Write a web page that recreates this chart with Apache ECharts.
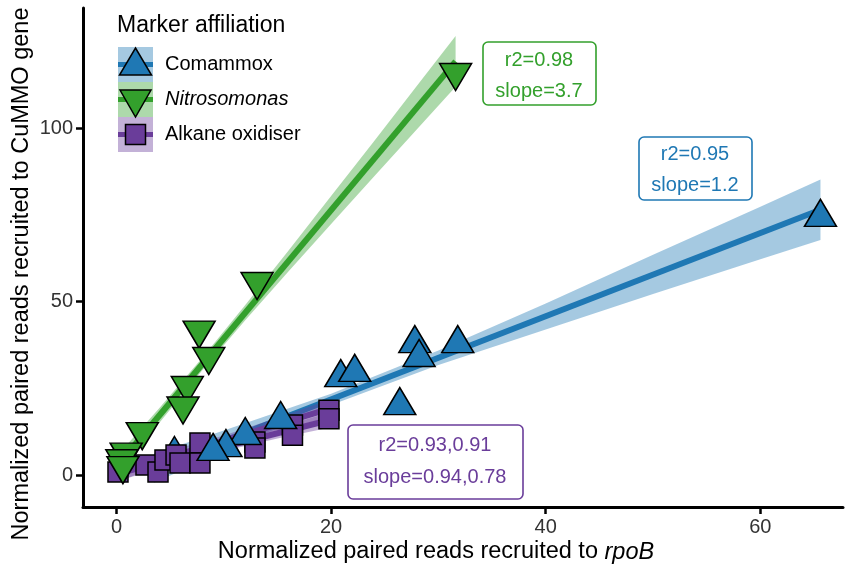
<!DOCTYPE html>
<html><head><meta charset="utf-8">
<script src="https://cdn.jsdelivr.net/npm/echarts@6/dist/echarts.min.js"></script>
<style>html,body{margin:0;padding:0;background:#fff}#c{width:846px;height:570px}</style>
</head><body><div id="c"></div>
<script>
// ---- data ----
const xTicks = [0, 20, 40, 60];
const yTicks = [0, 50, 100];

const comammox = [[65.6,75.6],[31.8,39.2],[27.8,39.2],[28.2,35.2],[20.9,29.4],[22.2,30.9],
  [26.4,21.3],[15.3,17.3],[12.0,12.7],[10.2,9.2],[9.0,8.1],[5.4,7.2]];
const nitrosomonas = [[31.6,114.8],[13.1,54.5],[7.7,40.5],[8.6,32.9],[6.6,24.5],[6.2,18.6],
  [2.4,11.2],[0.9,5.3],[0.5,3.4],[0.6,1.4]];
const alkane = [[0.14,0.87],[2.75,2.88],[3.87,0.87],[4.52,4.33],[5.55,5.77],[5.92,3.46],
  [7.78,9.23],[7.78,3.46],[12.9,9.52],[12.9,7.79],[16.4,14.4],[16.4,11.5],[19.8,18.7],[19.8,16.2]];

// fitted lines (end points) and confidence ribbons [x, lower, upper]
const comammoxFit = [[3.5,2.0],[65.6,76.5]];
const nitroFit = [[0.5,4.25],[31.6,119.3]];
const alkaneFitA = [[0.1,0.6],[19.8,19.1]];
const alkaneFitB = [[0.1,0.4],[19.8,15.8]];
const comammoxBand = [[3.5,-2.2,6.2],[10,6.8,12.8],[20,20.2,23.4],[30,31.7,35.9],[40,42.0,49.5],
  [50,52.2,63.5],[60,62.2,77.4],[65.6,67.8,85.2]];
const nitroBand = [[0.5,1.4,7.1],[4,15.1,19.3],[8,30.2,33.8],[12,44.6,49.0],[16,58.6,64.6],
  [20,72.4,80.5],[24,86.1,96.3],[28,99.7,112.3],[31.6,112.0,126.6]];
const alkaneBandA = [[0.1,-1.9,3.3],[5,3.6,7.0],[10,8.6,11.4],[15,12.9,16.5],[19.8,16.5,21.7]];
const alkaneBandB = [[0.1,-1.8,2.6],[5,2.85,5.65],[10,6.95,9.35],[15,10.55,13.55],[19.8,13.6,18.0]];

const annotations = [
  {lines:['r2=0.98','slope=3.7'], color:'#33a02c'},
  {lines:['r2=0.95','slope=1.2'], color:'#1f78b4'},
  {lines:['r2=0.93,0.91','slope=0.94,0.78'], color:'#6a3d9a'}
];

// ---- styles ----
const C_BLUE = '#1f78b4', C_GREEN = '#33a02c', C_PURPLE = '#6a3d9a';
const F = '"Liberation Sans", Arial, Helvetica, sans-serif';

function band(data, color, z) {
  return {
    type: 'custom', data: data, silent: true, z: z, clip: true,
    encode: {x: 0, y: [1, 2]},
    renderItem: function (params, api) {
      if (params.dataIndex !== 0) return null;
      const up = data.map(d => api.coord([d[0], d[2]]));
      const lo = data.map(d => api.coord([d[0], d[1]])).reverse();
      return {type: 'polygon', shape: {points: up.concat(lo)}, style: {fill: color}};
    }
  };
}
function fit(data, color, z) {
  return {type: 'line', data: data, showSymbol: false, silent: true, z: z,
    lineStyle: {color: color, width: 6}};
}
function pts(data, color, symbol, size, z) {
  return {type: 'scatter', data: data, symbol: symbol, symbolSize: size, z: z,
    itemStyle: {color: color, borderColor: '#000', borderWidth: 1.5, opacity: 1}};
}
const DOWN = 'path://M0,0L32,0L16,27Z';

const chart = echarts.init(document.getElementById('c'), null, {renderer: 'canvas'});

const annoBoxes = [
  {x: 483, y: 42, w: 113, h: 63, cx: 539, ty: [60, 91]},
  {x: 639, y: 137, w: 113, h: 63, cx: 695, ty: [154, 185]},
  {x: 348, y: 425, w: 175, h: 74, cx: 435, ty: [445, 477]}
];
const graphics = [];
annotations.forEach((a, i) => {
  const b = annoBoxes[i];
  graphics.push({type: 'rect', shape: {x: b.x, y: b.y, width: b.w, height: b.h, r: 5},
    style: {fill: '#fff', stroke: a.color, lineWidth: 1.6}, z: 50});
  a.lines.forEach((t, k) => graphics.push({type: 'text', x: b.cx, y: b.ty[k], z: 51,
    style: {text: t, fill: a.color, font: '20px ' + F, align: 'center', verticalAlign: 'middle'}}));
});
// legend
graphics.push({type: 'text', x: 117, y: 26, z: 51,
  style: {text: 'Marker affiliation', fill: '#000', font: '23px ' + F, verticalAlign: 'middle'}});
const keys = [
  {y: 47, fillBg: 'rgba(31,120,180,0.4)', c: C_BLUE, label: 'Comammox', italic: false},
  {y: 82, fillBg: 'rgba(51,160,44,0.4)', c: C_GREEN, label: 'Nitrosomonas', italic: true},
  {y: 117, fillBg: 'rgba(106,61,154,0.4)', c: C_PURPLE, label: 'Alkane oxidiser', italic: false}
];
keys.forEach((k, i) => {
  graphics.push({type: 'rect', shape: {x: 118, y: k.y, width: 35, height: 35}, style: {fill: k.fillBg}, z: 50});
  const ly = k.y + 17.5;
  graphics.push({type: 'line', shape: {x1: 118, y1: ly, x2: 153, y2: ly}, style: {stroke: k.c, lineWidth: 5}, z: 51});
  let shape;
  if (i === 0) shape = {type: 'polygon', shape: {points: [[135.5, k.y + 1], [151.5, k.y + 28], [119.5, k.y + 28]]}};
  else if (i === 1) shape = {type: 'polygon', shape: {points: [[120, k.y + 8], [151, k.y + 8], [135.5, k.y + 35]]}};
  else shape = {type: 'rect', shape: {x: 125.5, y: k.y + 7.5, width: 20, height: 20}};
  shape.style = {fill: k.c, stroke: '#000', lineWidth: 1.5};
  shape.z = 52;
  graphics.push(shape);
  graphics.push({type: 'text', x: 165, y: ly, z: 51,
    style: {text: k.label, fill: '#000', font: (k.italic ? 'italic ' : '') + '20px ' + F, verticalAlign: 'middle'}});
});
// axis titles
graphics.push({type: 'text', x: 436, y: 552, z: 51,
  style: {rich: {n: {font: '23.5px ' + F, fill: '#000'}, i: {font: 'italic 23.5px ' + F, fill: '#000'}},
    text: '{n|Normalized paired reads recruited to }{i|rpoB}', align: 'center', verticalAlign: 'middle'}});
graphics.push({type: 'text', x: 22, y: 274, rotation: Math.PI / 2, z: 51,
  style: {text: 'Normalized paired reads recruited to CuMMO gene', fill: '#000', font: '23.5px ' + F,
    align: 'center', verticalAlign: 'middle'}});

// the leftmost Comammox point sits behind the alkane squares in the reference
const comammoxBack = comammox.filter(d => d[0] < 6);
const comammoxFront = comammox.filter(d => d[0] >= 6);

chart.setOption({
  animation: false,
  backgroundColor: '#fff',
  grid: {left: 83, right: 3, top: 8, bottom: 63, containLabel: false},
  xAxis: {
    type: 'value', min: -3.12, max: 67.7,
    axisLine: {show: true, onZero: false, lineStyle: {color: '#000', width: 3}},
    axisTick: {show: true, length: 7, lineStyle: {color: '#000', width: 2.5}, customValues: xTicks},
    axisLabel: {customValues: xTicks, color: '#333', fontSize: 20, fontFamily: F, margin: 10},
    splitLine: {show: false}
  },
  yAxis: {
    type: 'value', min: -9.23, max: 134.7,
    axisLine: {show: true, onZero: false, lineStyle: {color: '#000', width: 3}},
    axisTick: {show: true, length: 7, lineStyle: {color: '#000', width: 2.5}, customValues: yTicks},
    axisLabel: {customValues: yTicks, color: '#333', fontSize: 20, fontFamily: F, margin: 10},
    splitLine: {show: false}
  },
  graphic: graphics,
  series: [
    band(comammoxBand, 'rgba(31,120,180,0.4)', 1),
    fit(comammoxFit, C_BLUE, 2),
    band(nitroBand, 'rgba(51,160,44,0.4)', 3),
    fit(nitroFit, C_GREEN, 4),
    band(alkaneBandA, 'rgba(106,61,154,0.4)', 5),
    fit(alkaneFitA, C_PURPLE, 6),
    band(alkaneBandB, 'rgba(106,61,154,0.4)', 5),
    fit(alkaneFitB, C_PURPLE, 6),
    pts(comammoxBack, C_BLUE, 'triangle', [32, 27], 9),
    pts(alkane, C_PURPLE, 'rect', 20, 10),
    pts(comammoxFront, C_BLUE, 'triangle', [32, 27], 11),
    pts(nitrosomonas, C_GREEN, DOWN, [32, 27], 12)
  ]
});
</script></body></html>
